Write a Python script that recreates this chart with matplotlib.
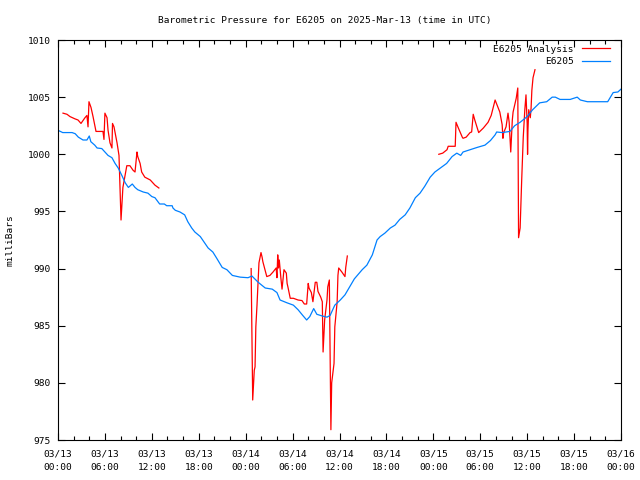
import matplotlib
matplotlib.use("Agg")
import matplotlib.pyplot as plt
import matplotlib.dates as mdates
import numpy as np
import pandas as pd

START = pd.Timestamp("2025-03-13 00:00")

# E6205 station pressure (hours since 03/13 00:00 UTC, mb)
obs_hours = [0.0, 0.6, 1.8, 2.2, 2.6, 3.2, 3.7, 4.0, 4.2, 4.7, 5.0, 5.6, 6.0, 6.4,
             6.9, 7.3, 7.7, 8.2, 8.6, 9.0, 9.5, 9.85, 10.2, 10.9, 11.5, 12.0, 12.4,
             13.0, 13.6, 13.9, 14.6, 14.7, 15.0, 15.6, 16.2, 16.6, 17.1, 17.5, 18.2,
             18.8, 19.2, 19.8, 20.3, 21.0, 21.6, 22.3, 23.3, 24.3, 24.8, 25.6, 26.5,
             27.4, 28.0, 28.4, 29.3, 30.1, 30.7, 31.3, 31.8, 32.2, 32.7, 33.1, 33.8,
             34.4, 34.8, 35.4, 36.1, 36.7, 37.3, 37.9, 38.9, 39.5, 40.2, 40.8, 41.2,
             41.8, 42.5, 43.1, 43.7, 44.4, 45.0, 45.7, 46.3, 46.9, 47.6, 48.2, 49.1,
             49.7, 50.4, 51.0, 51.5, 51.8, 52.7, 53.6, 54.6, 55.3, 55.9, 56.1, 56.8,
             57.8, 58.4, 59.1, 60.0, 60.7, 61.6, 62.5, 63.2, 63.6, 64.2, 65.5, 66.4,
             66.8, 67.7, 68.9, 70.3, 71.0, 71.6, 72.0]
obs_mb = [1002.1, 1001.9, 1001.9, 1001.8, 1001.5, 1001.25, 1001.25, 1001.6, 1001.1,
          1000.8, 1000.55, 1000.5, 1000.2, 999.9, 999.7, 999.2, 998.8, 998.1, 997.5,
          997.1, 997.4, 997.1, 996.9, 996.7, 996.6, 996.3, 996.2, 995.65, 995.65,
          995.5, 995.5, 995.3, 995.1, 994.95, 994.7, 994.1, 993.55, 993.2, 992.8,
          992.2, 991.8, 991.45, 990.9, 990.1, 989.9, 989.4, 989.25, 989.2, 989.35,
          988.8, 988.3, 988.2, 987.9, 987.25, 987.0, 986.8, 986.4, 985.9, 985.5,
          985.8, 986.5, 986.0, 985.85, 985.75, 985.9, 986.8, 987.25, 987.7, 988.4,
          989.1, 989.9, 990.3, 991.2, 992.5, 992.8, 993.1, 993.55, 993.8, 994.3,
          994.7, 995.3, 996.2, 996.6, 997.2, 998.0, 998.45, 998.9, 999.2, 999.8,
          1000.1, 999.9, 1000.2, 1000.4, 1000.6, 1000.8, 1001.2, 1001.7, 1001.95,
          1001.9, 1002.0, 1002.5, 1002.8, 1003.3, 1003.9, 1004.5, 1004.6, 1005.0,
          1005.0, 1004.8, 1004.8, 1005.0, 1004.75, 1004.6, 1004.6, 1004.6, 1005.4,
          1005.45, 1005.7]

# E6205 Analysis, three pieces with gaps between them
ana1_hours = [0.64, 1.15, 1.53, 2.17, 2.56, 2.94, 3.45, 3.7, 3.84, 3.96, 4.22, 4.48,
              4.86, 5.75, 5.88, 6.0, 6.27, 6.4, 6.65, 6.9, 6.97, 7.16, 7.55, 7.8, 8.06,
              8.3, 8.57, 8.8, 9.2, 9.6, 9.85, 10.1, 10.2, 10.5, 10.7, 11.1, 11.8, 12.4,
              12.9]
ana1_mb = [1003.6, 1003.5, 1003.3, 1003.1, 1003.0, 1002.7, 1003.2, 1003.4, 1002.4,
           1004.6, 1004.1, 1003.3, 1002.0, 1002.0, 1001.3, 1003.6, 1003.2, 1002.1,
           1001.0, 1000.55, 1002.7, 1002.4, 1001.0, 999.9, 994.25, 997.1, 998.1,
           999.0, 999.0, 998.6, 998.45, 1000.2, 999.8, 999.2, 998.45, 998.0, 997.75,
           997.3, 997.05]
ana2_hours = [24.7, 24.8, 24.9, 25.1, 25.2, 25.3, 25.45, 25.7, 25.96, 26.1, 26.2, 26.7,
              27.1, 27.5, 27.9, 28.0, 28.1, 28.2, 28.3, 28.5, 28.65, 28.8, 28.9, 29.2,
              29.3, 29.4, 29.7, 30.1, 30.7, 31.2, 31.5, 31.8, 32.0, 32.1, 32.4, 32.6,
              32.9, 33.1, 33.25, 33.6, 33.8, 33.9, 34.1, 34.4, 34.5, 34.7, 34.8, 34.9,
              35.0, 35.3, 35.4, 35.7, 35.8, 35.9, 36.3, 36.7, 36.8, 37.0]
ana2_mb = [990.0, 984.2, 978.5, 981.1, 981.4, 984.9, 986.8, 990.5, 991.4, 991.0, 990.6,
           989.3, 989.4, 989.7, 990.05, 989.2, 991.2, 990.05, 990.75, 989.2, 988.2,
           989.2, 989.9, 989.6, 988.7, 988.4, 987.4, 987.4, 987.25, 987.2, 986.9,
           986.9, 988.7, 988.3, 987.9, 987.1, 988.8, 988.8, 988.0, 987.5, 987.1,
           982.7, 985.5, 987.25, 988.4, 989.0, 982.6, 975.9, 980.0, 981.7, 984.9,
           987.1, 989.4, 990.05, 989.7, 989.3, 990.1, 991.1]
ana3_hours = [48.7, 49.2, 49.75, 49.9, 50.8, 50.9, 51.2, 51.7, 51.8, 52.2, 52.7, 52.9,
              53.1, 53.3, 53.8, 54.4, 55.0, 55.4, 55.9, 56.5, 56.8, 56.9, 57.0, 57.3,
              57.55, 57.7, 57.9, 58.1, 58.2, 58.6, 58.8, 58.9, 59.1, 59.3, 59.5, 59.7,
              59.85, 60.0, 60.05, 60.1, 60.2, 60.4, 60.5, 60.6, 60.75, 61.0]
ana3_mb = [1000.0, 1000.1, 1000.4, 1000.7, 1000.7, 1002.8, 1002.3, 1001.5, 1001.4,
           1001.5, 1001.9, 1001.95, 1003.5, 1003.0, 1001.9, 1002.3, 1002.8, 1003.4,
           1004.75, 1003.7, 1002.6, 1001.4, 1001.9, 1002.4, 1003.6, 1002.8, 1000.2,
           1003.0, 1003.7, 1004.9, 1005.8, 992.7, 993.55, 997.75, 1001.5, 1003.9,
           1005.2, 1002.7, 1000.0, 1002.1, 1003.9, 1003.2, 1004.05, 1005.6, 1006.7,
           1007.4]

y_ticks = [975, 980, 985, 990, 995, 1000, 1005, 1010]


def to_time(hours):
    return START + pd.to_timedelta(np.asarray(hours, dtype=float), unit="h")


# join analysis pieces with NaN gaps so it is one line / one legend entry
ana_hours = ana1_hours + [np.nan] + ana2_hours + [np.nan] + ana3_hours
ana_mb = ana1_mb + [np.nan] + ana2_mb + [np.nan] + ana3_mb

plt.rcParams["font.family"] = "DejaVu Sans Mono"
plt.rcParams["font.size"] = 6.8

fig = plt.figure(figsize=(6.4, 4.8), dpi=100)
ax = fig.add_axes([58 / 640, 40 / 480, 563 / 640, 400 / 480])

ax.plot(to_time(ana_hours), ana_mb, color="#ff0000", lw=0.9,
        label="E6205 Analysis")
ax.plot(to_time(obs_hours), obs_mb, color="#0080ff", lw=0.9, label="E6205")

ax.set_xlim(START, START + pd.Timedelta(hours=72))
ax.set_ylim(975, 1010)
ax.set_yticks(y_ticks)

ax.xaxis.set_major_locator(mdates.HourLocator(byhour=[0, 6, 12, 18]))
ax.xaxis.set_minor_locator(mdates.HourLocator(interval=2))
ax.xaxis.set_major_formatter(mdates.DateFormatter("%m/%d\n%H:%M"))
for lab in ax.get_xticklabels():
    lab.set_linespacing(1.6)

ax.tick_params(which="both", direction="in", top=True, right=True, width=0.8)
ax.tick_params(which="major", length=5)
ax.tick_params(which="minor", length=3)
ax.tick_params(axis="x", which="major", pad=7)
ax.tick_params(axis="y", which="major", pad=5)
for s in ax.spines.values():
    s.set_linewidth(0.8)

ax.legend(loc="upper right", bbox_to_anchor=(0.9805, 0.988), borderaxespad=0,
          borderpad=0, markerfirst=False, frameon=False,
          handlelength=3.0, handletextpad=0.85, labelspacing=0.35,
          fontsize=6.8)

fig.text(0.508, 1 - 20 / 480, "Barometric Pressure for E6205 on 2025-Mar-13 (time in UTC)",
         ha="center", va="center")
fig.text(10 / 640, 0.5, "milliBars", rotation=90, ha="center", va="center")

fig.savefig("out.png", dpi=100)
